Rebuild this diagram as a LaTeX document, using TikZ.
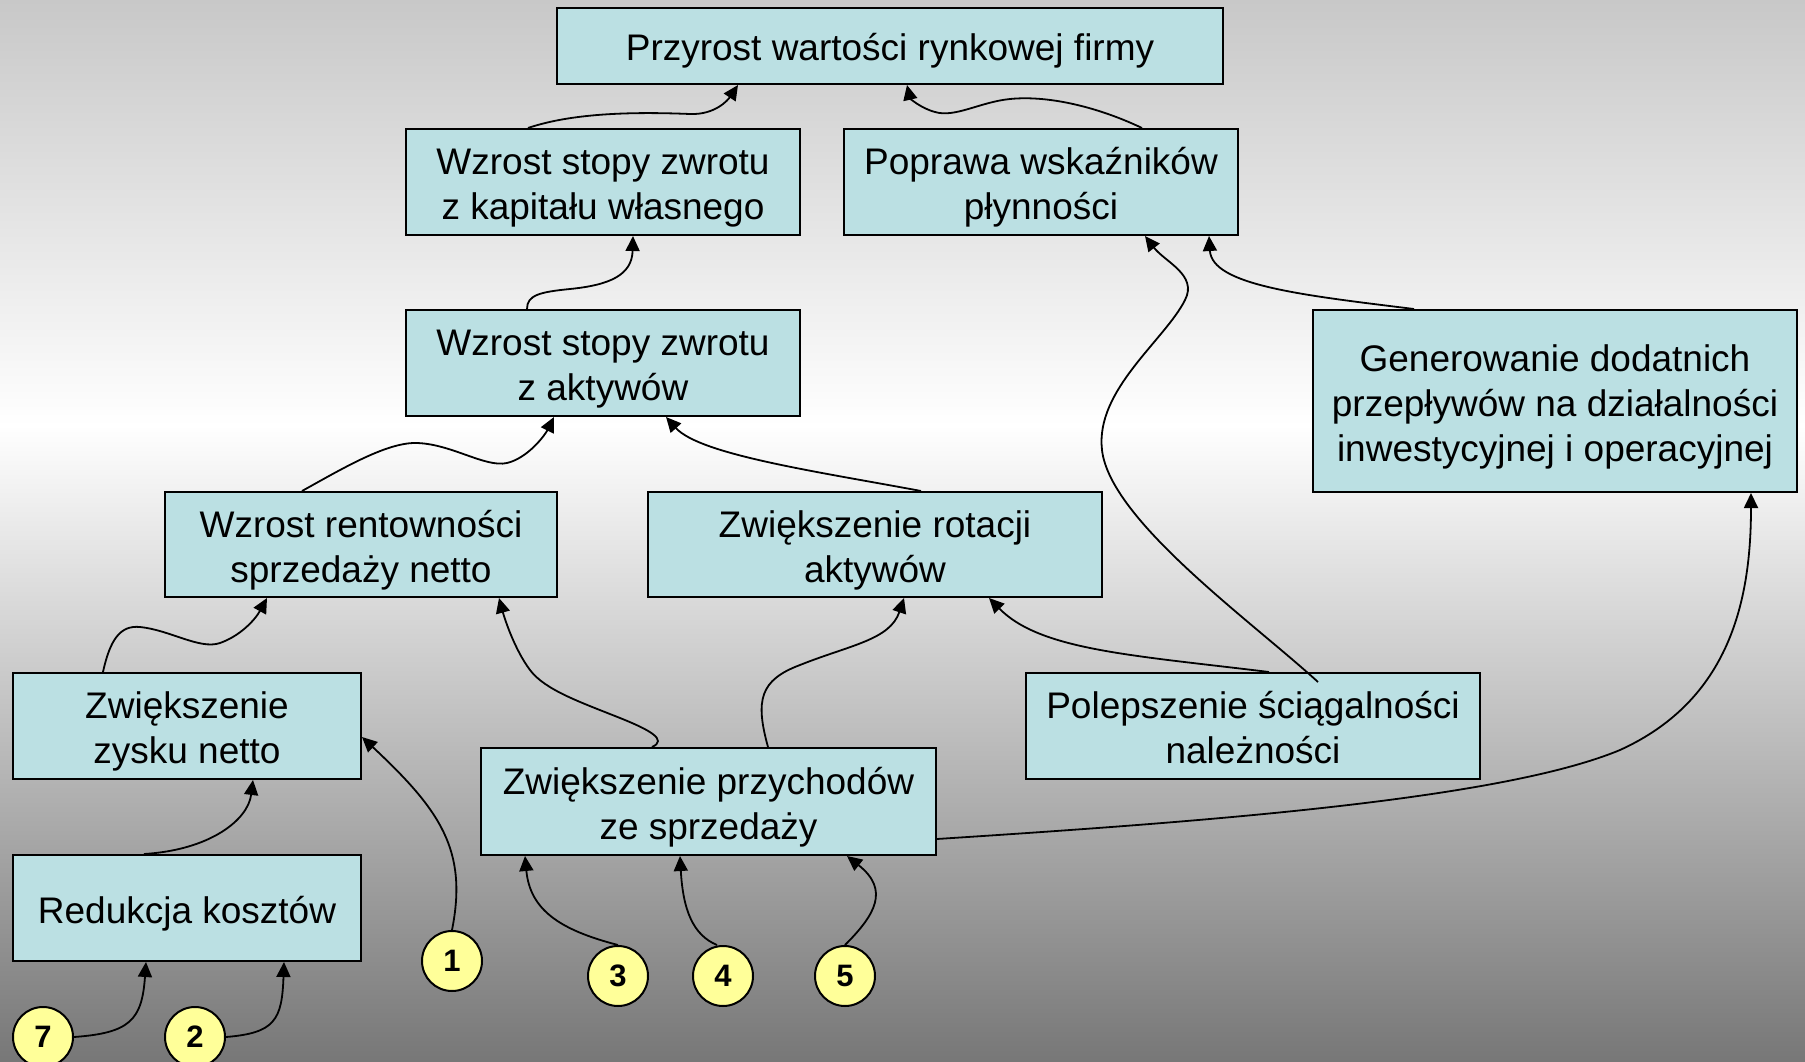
\documentclass[tikz,border=0pt]{standalone}
\usepackage{fontspec}
\setmainfont{Liberation Sans}
\usetikzlibrary{arrows.meta}

\definecolor{boxfill}{HTML}{BBE0E3}
\definecolor{badge}{HTML}{FFFF99}
\definecolor{bgtop}{HTML}{C8C8C8}
\definecolor{bgbot}{HTML}{777777}

\newcommand\boxfont{\fontsize{37}{45}\selectfont}
\newcommand\badgefont{\fontsize{31}{31}\selectfont\bfseries}
% centred lines, set a little lower so the capitals sit on the box's middle
\newcommand\boxtext[1]{\raisebox{-6pt}[\height][\depth]{\begin{tabular}{@{}c@{}}#1\end{tabular}}}

\tikzset{
  box/.style={draw=black, line width=2pt, fill=boxfill,
              inner sep=0pt, font=\boxfont},
  badgenode/.style={circle, draw=black, line width=2pt, fill=badge,
              minimum size=60pt, inner sep=0pt, font=\badgefont},
  link/.style={line width=1.8pt, -{Triangle[length=15pt,width=14pt]}}
}

\begin{document}
\begin{tikzpicture}[x=1pt,y=-1pt]
\useasboundingbox (0,0) rectangle (1805,1062);

% background: grey at the top, white band, dark grey at the bottom
\shade[top color=bgtop, bottom color=white] (0,0) rectangle (1805,426);
\shade[top color=white, bottom color=bgbot] (0,425) rectangle (1805,1062);

% boxes
\node[box, minimum width=666pt, minimum height=76pt]  (A) at (890,46)    {\boxtext{Przyrost wartości rynkowej firmy}};
\node[box, minimum width=394pt, minimum height=106pt] (B) at (603,182)   {\boxtext{Wzrost stopy zwrotu\\z kapitału własnego}};
\node[box, minimum width=394pt, minimum height=106pt] (C) at (1041,182)  {\boxtext{Poprawa wskaźników\\płynności}};
\node[box, minimum width=394pt, minimum height=106pt] (D) at (603,363)   {\boxtext{Wzrost stopy zwrotu\\z aktywów}};
\node[box, minimum width=484pt, minimum height=182pt] (E) at (1555,401)  {\boxtext{Generowanie dodatnich\\przepływów na działalności\\inwestycyjnej i operacyjnej}};
\node[box, minimum width=392pt, minimum height=105pt] (F) at (361,544.5) {\boxtext{Wzrost rentowności\\sprzedaży netto}};
\node[box, minimum width=454pt, minimum height=105pt] (G) at (875,544.5) {\boxtext{Zwiększenie rotacji\\aktywów}};
\node[box, minimum width=348pt, minimum height=106pt] (H) at (187,726)   {\boxtext{Zwiększenie\\zysku netto}};
\node[box, minimum width=455pt, minimum height=107pt] (I) at (708.5,801.5) {\boxtext{Zwiększenie przychodów\\ze sprzedaży}};
\node[box, minimum width=454pt, minimum height=106pt] (J) at (1253,726)  {\boxtext{Polepszenie ściągalności\\należności}};
\node[box, minimum width=348pt, minimum height=106pt] (K) at (187,908)   {\boxtext{Redukcja kosztów}};

% numbered badges
\node[badgenode] (c1) at (452,961)  {1};
\node[badgenode] (c3) at (618,976)  {3};
\node[badgenode] (c4) at (723,976)  {4};
\node[badgenode] (c5) at (845,976)  {5};
\node[badgenode] (c7) at (43,1037)  {7};
\node[badgenode] (c2) at (195,1037) {2};

% connectors
\draw[link] ([xshift=-75pt]B.north) .. controls (575,112) and (640,112) .. (690,114)
            .. controls (715,115) and (728,100) .. ([xshift=-152pt]A.south);
\draw[link] ([xshift=101pt]C.north) .. controls (1100,108) and (1050,95) .. (1010,99)
            .. controls (980,102) and (955,118) .. (935,112)
            .. controls (920,108) and (910,98) .. ([xshift=17pt]A.south);
\draw[link] ([xshift=-76pt]D.north) .. controls (527,295) and (540,292) .. (570,289)
            .. controls (610,285) and (632,275) .. ([xshift=30pt]B.south);
\draw[link] ([xshift=-59pt]F.north) .. controls (340,470) and (385,443) .. (415,443)
            .. controls (450,443) and (485,468) .. (507,463)
            .. controls (528,458) and (545,435) .. ([xshift=-49pt]D.south);
\draw[link] ([xshift=46pt]G.north) .. controls (820,472) and (700,455) .. ([xshift=63pt]D.south);
\draw[link] ([xshift=-141pt]E.north) .. controls (1300,295) and (1212,285) .. ([xshift=168pt]C.south);
\draw[link] ([xshift=65pt,yshift=-10pt]J.north) .. controls (1250,620) and (1110,520) .. (1102,450)
            .. controls (1095,390) and (1165,340) .. (1185,300)
            .. controls (1198,275) and (1165,262) .. ([xshift=104pt]C.south);
\draw[link] ([xshift=-84pt]H.north) .. controls (110,640) and (120,625) .. (140,627)
            .. controls (170,630) and (200,650) .. (220,643)
            .. controls (240,636) and (255,620) .. ([xshift=-94pt]F.south);
\draw[link] ([xshift=-43pt]K.north) .. controls (210,850) and (248,820) .. ([xshift=66pt]H.south);
\draw[link] (c1.north) .. controls (468,850) and (440,810) .. ([yshift=-11pt]H.east);
\draw[link] ([xshift=-56.5pt]I.north) .. controls (668,740) and (650,730) .. (620,718)
            .. controls (580,702) and (545,690) .. (530,670)
            .. controls (515,650) and (505,620) .. ([xshift=138pt]F.south);
\draw[link] ([xshift=59.5pt]I.north) .. controls (755,700) and (760,680) .. (800,665)
            .. controls (850,645) and (890,640) .. ([xshift=29pt]G.south);
\draw[link] ([xshift=16pt]J.north) .. controls (1130,655) and (1040,650) .. ([xshift=114pt]G.south);
\draw[link] ([yshift=-37.5pt]I.east) .. controls (1200,822) and (1500,800) .. (1620,750)
            .. controls (1730,700) and (1751,600) .. ([xshift=196pt]E.south);
\draw[link] (c3.north) .. controls (560,930) and (530,910) .. ([xshift=45pt]I.south west);
\draw[link] ([xshift=-6pt]c4.north) .. controls (693,935) and (683,910) .. ([xshift=-28.5pt]I.south);
\draw[link] (c5.north) .. controls (875,915) and (890,890) .. ([xshift=138.5pt]I.south);
\draw[link] (c7.east) .. controls (130,1033) and (142,1020) .. ([xshift=-41pt]K.south);
\draw[link] (c2.east) .. controls (275,1033) and (282,1020) .. ([xshift=97pt]K.south);
\end{tikzpicture}
\end{document}
